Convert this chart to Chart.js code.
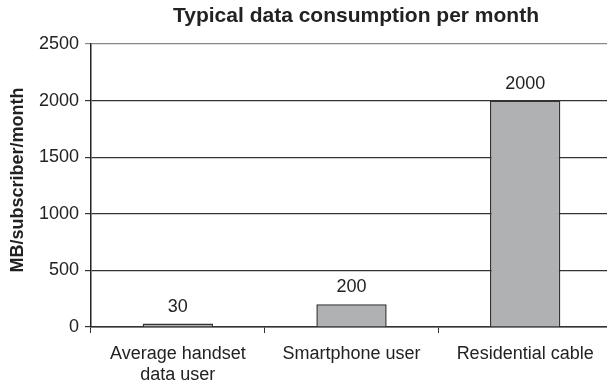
<!DOCTYPE html>
<html>
<head>
<meta charset="utf-8">
<script src="https://cdn.jsdelivr.net/npm/chart.js@4"></script>
<style>
  html, body { margin: 0; padding: 0; background: #fff; overflow: hidden; }
  #wrap { width: 620px; height: 389px; }
</style>
</head>
<body>
<div id="wrap"><canvas id="chart" width="620" height="389"></canvas></div>
<script>
const categories = [["Average handset", "data user"], "Smartphone user", "Residential cable"];
const usage = [30, 200, 2000];
const yTicks = [0, 500, 1000, 1500, 2000, 2500];

const FONT = "'Liberation Sans', Arial, Helvetica, sans-serif";

const textPlugin = {
    id: "texts",
    afterDatasetsDraw(chart) {
        const ctx = chart.ctx;
        const area = chart.chartArea;
        ctx.save();
        ctx.fillStyle = "#222";

        // title
        ctx.font = "bold 21px " + FONT;
        ctx.textAlign = "center";
        ctx.textBaseline = "middle";
        ctx.fillText("Typical data consumption per month", 356, 16);

        // y axis title
        ctx.save();
        ctx.translate(18, 180);
        ctx.rotate(-Math.PI / 2);
        ctx.font = "bold 18px " + FONT;
        ctx.fillText("MB/subscriber/month", 0, 0);
        ctx.restore();

        // value labels
        ctx.font = "18px " + FONT;
        ctx.textBaseline = "alphabetic";
        chart.getDatasetMeta(0).data.forEach((bar, i) => {
            ctx.fillText(String(usage[i]), bar.x, bar.y - 12);
        });
        ctx.restore();
    }
};

new Chart(document.getElementById("chart").getContext("2d"), {
    type: "bar",
    data: {
        labels: categories,
        datasets: [{
            data: usage,
            backgroundColor: "#b0b1b3",
            borderColor: "#333",
            borderWidth: 1.5,
            barPercentage: 0.405,
            categoryPercentage: 1
        }]
    },
    options: {
        responsive: false,
        animation: false,
        layout: { padding: { left: 0, top: 44, right: 8, bottom: 0 } },
        plugins: {
            legend: { display: false },
            title: { display: false },
            tooltip: { enabled: false }
        },
        scales: {
            x: {
                offset: true,
                grid: {
                    offset: true,
                    drawOnChartArea: false,
                    color: "#333",
                    tickLength: 6
                },
                border: { color: "#333", width: 1.5 },
                ticks: {
                    color: "#222",
                    font: { family: FONT, size: 18 },
                    padding: 10,
                    maxRotation: 0
                },
                afterFit(scale) { scale.height = 62; }
            },
            y: {
                min: 0,
                max: 2500,
                afterBuildTicks(scale) { scale.ticks = yTicks.map(v => ({ value: v })); },
                grid: {
                    color: ctx => ctx.tick && ctx.tick.value === 2500 ? "#888" : "#333",
                    lineWidth: 1.2,
                    tickLength: 6
                },
                border: { color: "#222", width: 1.5 },
                ticks: {
                    color: "#222",
                    font: { family: FONT, size: 18 },
                    padding: 6,
                    callback: v => String(v)
                },
                afterFit(scale) { scale.width = 91; }
            }
        }
    },
    plugins: [textPlugin]
});
</script>
</body>
</html>
